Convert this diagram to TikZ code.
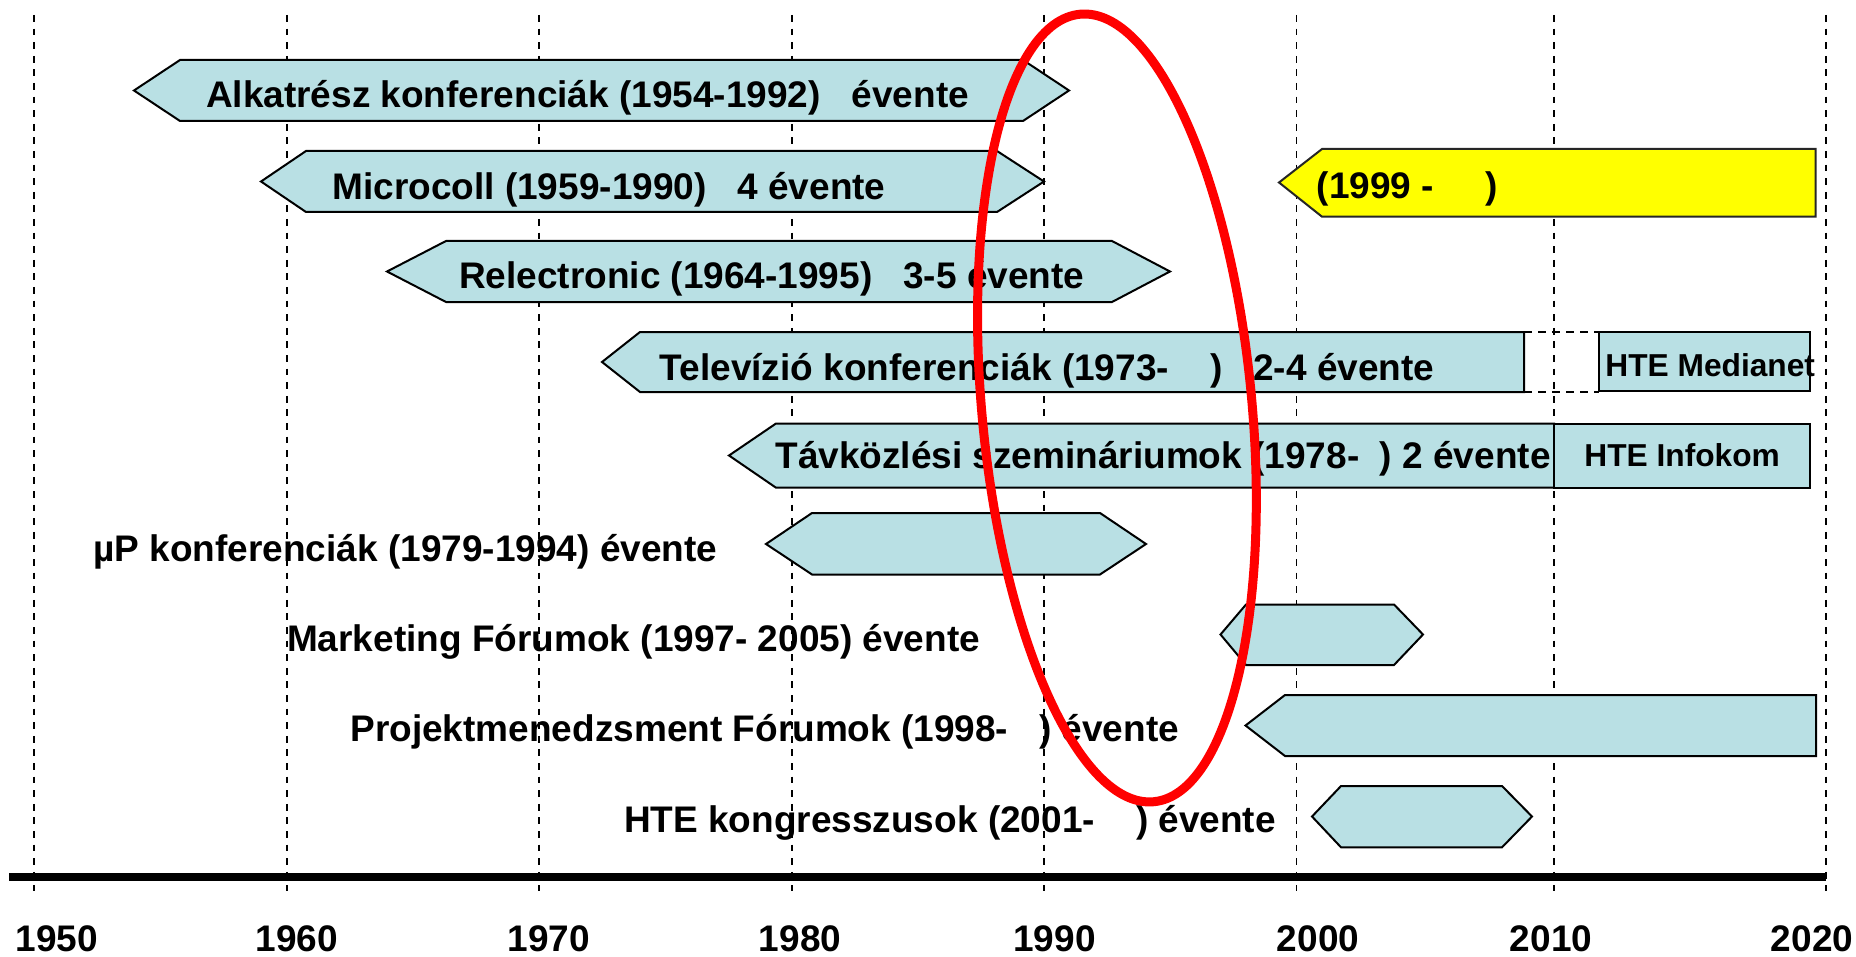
\documentclass[tikz,border=0pt]{standalone}
\usepackage{fontspec}
\setmainfont{Liberation Sans}
\definecolor{boxblue}{RGB}{185,224,228}
\definecolor{ovalred}{RGB}{255,0,0}
\definecolor{boxyellow}{RGB}{255,255,0}
\begin{document}
\begin{tikzpicture}[x=0.5pt,y=-0.5pt,
  bx/.style={draw=black, line width=1pt, fill=boxblue, line join=miter},
  ybx/.style={draw=black!85, line width=1pt, fill=boxyellow, line join=miter},
  lbl/.style={anchor=base west, inner sep=0pt, font=\bfseries\fontsize{18.5}{20}\selectfont},
  sml/.style={anchor=base west, inner sep=0pt, font=\bfseries\fontsize{15.85}{18}\selectfont},
  yr/.style={anchor=base, inner sep=0pt, font=\bfseries\fontsize{18.5}{20}\selectfont},
  gridln/.style={line width=0.95pt, dash pattern=on 3.4pt off 3.4pt},
  dashbox/.style={line width=1pt, dash pattern=on 4pt off 3pt}]
\useasboundingbox (0,0) rectangle (1856,957);
% vertical grid lines
\foreach \gx in {34.3,287,539,792,1044,1296.5,1554,1826}
  \draw[gridln] (\gx,15) -- (\gx,891);
% axis
\draw[line width=3.65pt] (9,877) -- (1826,877);
% year labels
\node[yr] (y1950) at (57,951) {1950};
\node[yr] (y1960) at (297,951) {1960};
\node[yr] (y1970) at (549,951) {1970};
\node[yr] (y1980) at (800,951) {1980};
\node[yr] (y1990) at (1054.5,951) {1990};
\node[yr] (y2000) at (1318,951) {2000};
\node[yr] (y2010) at (1551,951) {2010};
\node[yr] (y2020) at (1812,951) {2020};
% Alkatresz
\draw[bx] (134,90.5) -- (180,60) -- (1023,60) -- (1069,90.5) -- (1023,121) -- (180,121) -- cycle;
\node[lbl] (alk) at (205.6,107.3) {Alkatrész konferenciák (1954-1992)~~~évente};
% Microcoll
\draw[bx] (261,181.5) -- (306,151) -- (997,151) -- (1044,181.5) -- (997,212) -- (306,212) -- cycle;
\node[lbl] (mic) at (332,199) {Microcoll (1959-1990)~~~4 évente};
% Relectronic
\draw[bx] (387,271.5) -- (446,241) -- (1112,241) -- (1170,271.5) -- (1112,302) -- (446,302) -- cycle;
\node[lbl] (rel) at (458.7,288) {Relectronic (1964-1995)~~~3-5 évente};
% yellow
\draw[ybx] (1279,182.5) -- (1322,149) -- (1815.5,149) -- (1815.5,216.7) -- (1322,216.7) -- cycle;
\node[lbl] (yel) at (1316.5,198.3) {(1999 -~~~~~)};
% Televizio
\draw[bx] (602,362) -- (640,332) -- (1524,332) -- (1524,392) -- (640,392) -- cycle;
\draw[dashbox] (1524,332) -- (1599,332);
\draw[dashbox] (1524,392) -- (1599,392);
\draw[bx] (1599,332) rectangle (1810,391);
\node[lbl] (tel) at (659.3,380) {Televízió konferenciák (1973-~~~~)~~~2-4 évente};
\node[sml] (med) at (1605,376.7) {HTE Medianet};
% Tavkozlesi
\draw[bx] (729,455.5) -- (776,423.5) -- (1554,423.5) -- (1554,487.7) -- (776,487.7) -- cycle;
\draw[bx] (1554,423.5) rectangle (1810,487.7);
\node[lbl] (tav) at (775,468) {Távközlési szemináriumok (1978-~~) 2 évente};
\node[sml] (inf) at (1584,466.7) {HTE Infokom};
% muP
\draw[bx] (766,544) -- (812,513) -- (1100,513) -- (1146,544) -- (1100,574.5) -- (812,574.5) -- cycle;
\node[lbl] (mup) at (93,561.7) {µP konferenciák (1979-1994) évente};
% Marketing
\draw[bx] (1220.5,634.5) -- (1246,604.5) -- (1394,604.5) -- (1423,634.5) -- (1394,665) -- (1246,665) -- cycle;
\node[lbl] (mkt) at (286.7,651.7) {Marketing Fórumok (1997- 2005) évente};
% Projekt
\draw[bx] (1245.5,725.5) -- (1285,695) -- (1816,695) -- (1816,756) -- (1285,756) -- cycle;
\node[lbl] (prj) at (350,741.7) {Projektmenedzsment Fórumok (1998-~~~) évente};
% HTE kongresszus
\draw[bx] (1312,816.5) -- (1341,786) -- (1502,786) -- (1532,816.5) -- (1502,847.3) -- (1341,847.3) -- cycle;
\node[lbl] (kon) at (623.7,832.7) {HTE kongresszusok (2001-~~~~) évente};
% red oval
\coordinate (oc) at (1117,408);
\draw[ovalred, line width=4.5pt, rotate around={5.34:(oc)}] (oc) ellipse [x radius=135, y radius=395.5];
\end{tikzpicture}
\end{document}
